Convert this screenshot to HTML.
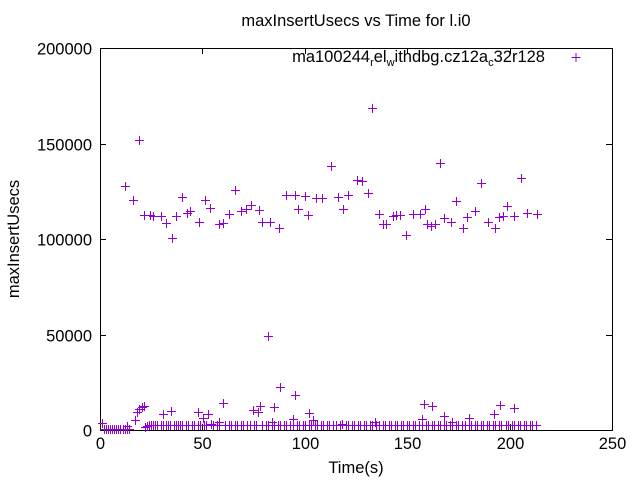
<!DOCTYPE html>
<html><head><meta charset="utf-8"><style>
html,body{margin:0;padding:0;background:#fff;}
svg{display:block;font-family:"Liberation Sans",sans-serif;}
</style></head><body>
<svg id="chart" width="640" height="480" viewBox="0 0 640 480" xmlns="http://www.w3.org/2000/svg">
<text x="356" y="26" font-size="16.5" text-anchor="middle">maxInsertUsecs vs Time for l.i0</text>
<text transform="translate(19,239) rotate(-90)" font-size="16.5" text-anchor="middle">maxInsertUsecs</text>
<text x="356" y="473" font-size="16.5" text-anchor="middle">Time(s)</text>
<g id="axes"></g>
<g id="marks"></g>
<g>
<text x="545" y="62" font-size="16.5" text-anchor="end">ma100244<tspan font-size="11" dy="4">r</tspan><tspan dy="-4">el</tspan><tspan font-size="11" dy="4">w</tspan><tspan dy="-4">ithdbg.cz12a</tspan><tspan font-size="11" dy="4">c</tspan><tspan dy="-4">32r128</tspan></text>
<path d="M571.5 57.5H580.5M576 53V62" stroke="#9400d3" stroke-width="1"/>
</g>
</svg>
<script>
const xTicks=[0,50,100,150,200,250];
const yTicks=[0,50000,100000,150000,200000];
const highT=[12.2,16.1,19.0,21.5,24.4,25.9,29.8,32.2,35.2,37.1,40.0,42.5,43.9,48.3,51.3,53.7,58.1,60.1,63.0,65.9,68.8,71.3,73.7,77.6,79.1,83.0,87.4,90.8,95.2,96.7,100.1,101.6,105.5,108.4,112.8,116.2,118.7,121.1,125.5,127.9,130.9,132.8,136.2,138.2,139.6,143.1,144.5,146.5,149.4,152.8,156.3,158.7,159.7,161.6,163.6,166.0,168.0,171.4,173.8,177.2,179.2,183.1,186.0,189.5,192.9,194.8,196.8,198.7,202.1,205.6,208.5,213.4];
const highV=[128000,120400,151800,112600,112600,112000,112000,108400,100500,112000,122000,113600,114700,108900,120400,116200,107900,108400,113100,125700,114700,115700,117800,115200,108900,108900,105800,123000,123000,115700,122500,112600,121500,121500,138200,122000,115700,123000,130900,130400,124100,168600,113100,107900,107900,112000,112600,112600,102100,113100,113100,115700,107900,106800,107900,139800,111000,108900,119900,105800,111500,114700,129300,108900,105800,111500,112000,117300,112000,131900,113600,113100];
const spikeT=[1.0,13.2,17.1,18.1,19.0,20.5,21.5,30.8,34.7,47.9,50.3,52.7,58.1,60.1,74.7,77.1,78.1,82.0,84.0,85.0,87.9,94.2,95.2,102.1,104.0,134.3,157.2,158.2,162.1,168.0,171.9,180.2,192.4,195.3,202.1];
const spikeV=[3700,2100,5200,9400,11000,12000,12600,8400,9900,9400,6300,8400,4200,14100,10500,9400,12600,49200,4200,12000,22500,5800,18300,8900,5200,4200,5800,13600,12600,7300,4200,6300,8400,13100,11500];
const lowT=[2,3,4,5,6,7,8,9,10,11,12,13,14];
const lowV=[400,400,400,400,400,400,400,400,400,400,400,400,400];
const baseT=[22,23,24,25,26,27,28,30,31,32,33,34,36,37,38,39,40,42,43,45,46,48,49,51,52,54,55,57,58,61,63,64,66,67,69,70,72,73,75,76,79,81,82,84,85,87,88,90,91,93,94,96,97,99,100,102,103,105,106,108,109,111,112,114,115,117,118,120,121,123,124,126,127,129,130,132,133,135,136,138,139,141,142,144,145,147,148,150,151,153,154,156,157,159,160,162,163,165,166,168,169,171,172,174,175,177,178,180,181,183,184,186,187,189,190,192,193,195,196,198,199,201,202,204,205,207,208,210,211,213];
const baseV=[1500,2000,2600,2600,2800,2600,2600,2600,2800,2800,2600,2600,2800,2800,2600,2600,2800,2600,2600,2800,2600,2600,2800,2800,2600,3000,2600,2600,2800,2600,2800,2600,2600,2800,2600,2600,2800,2600,2600,2600,2800,2600,2800,2600,2600,2800,2600,2600,2800,2600,2600,2600,2800,2600,2800,2600,2600,2800,2600,2800,2600,2600,2600,2800,2600,2600,3000,2800,2600,2800,2600,2600,2800,2600,2800,2600,2600,2800,2600,2600,2800,2600,2600,2800,2600,2800,2600,2600,2800,2600,2600,2800,2600,2600,2800,2600,2600,2800,2600,2600,2800,2600,2600,2800,2600,2600,2800,2600,2800,2600,2600,2800,2600,2600,2800,2600,2600,2800,2600,2800,2600,2600,2800,2600,2600,2800,2600,2600,2800,2600];
const NS='http://www.w3.org/2000/svg';
const X0=100,X1=612,Y0=430,Y1=48;
function xs(t){return X0+(t-0)/(250-0)*(X1-X0);}
function ys(v){return Y0-(v-0)/(200000-0)*(Y0-Y1);}
const axes=document.getElementById('axes');
const marks=document.getElementById('marks');
function mk(tag,attrs,parent){const e=document.createElementNS(NS,tag);for(const k in attrs)e.setAttribute(k,attrs[k]);parent.appendChild(e);return e;}
const frame=mk('rect',{x:X0+0.5,y:Y1+0.5,width:X1-X0,height:Y0-Y1,fill:'none',stroke:'#000','stroke-width':1},axes);


xTicks.forEach(t=>{const x=Math.round(xs(t))+0.5;
 const l=mk('path',{d:`M${x} ${Y0}v-6M${x} ${Y1}v6`,stroke:'#000'},axes);
 
 
 const tx=mk('text',{x:x,y:Y0+19,'font-size':16.5,'text-anchor':'middle'},axes);tx.textContent=t;
 
 });
yTicks.forEach(v=>{const y=Math.round(ys(v))+0.5;
 const l=mk('path',{d:`M${X0} ${y}h6M${X1} ${y}h-6`,stroke:'#000'},axes);
 
 
 const tx=mk('text',{x:X0-8,y:y+6,'font-size':16.5,'text-anchor':'end'},axes);tx.textContent=v;
 
 });
function plot(T,V){for(let i=0;i<T.length;i++){const x=Math.round(xs(T[i]))+0.5,y=Math.round(ys(V[i]))+0.5;
 const p=mk('path',{d:`M${x-4.5} ${y}h9M${x} ${y-4.5}v9`,stroke:'#9400d3','stroke-width':1},marks);
 
 }}
plot(highT,highV);plot(spikeT,spikeV);plot(lowT,lowV);plot(baseT,baseV);
</script>
</body></html>
